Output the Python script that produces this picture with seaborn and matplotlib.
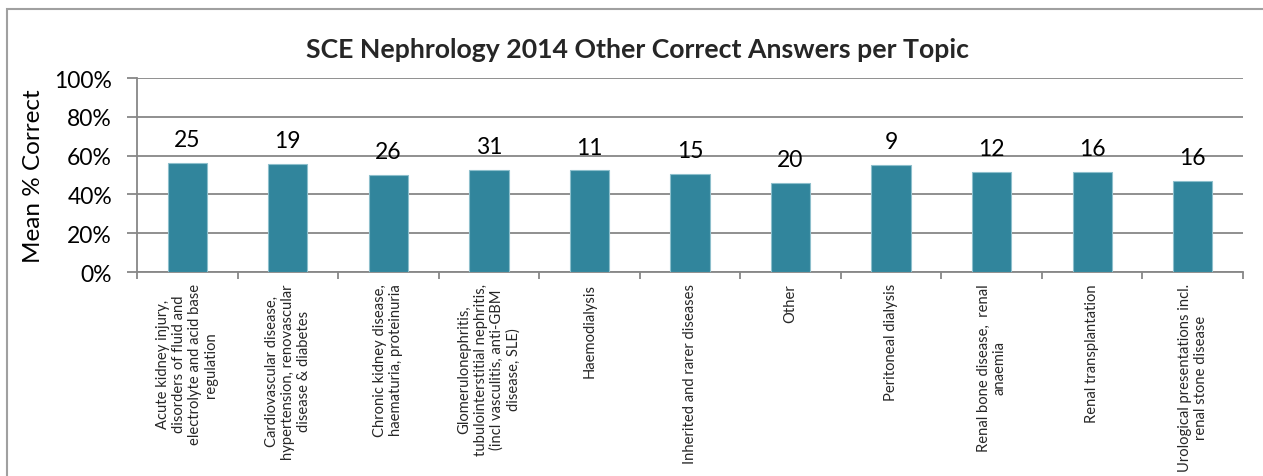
import matplotlib
matplotlib.use("Agg")
import matplotlib.pyplot as plt
from matplotlib.patches import Rectangle
from matplotlib.ticker import PercentFormatter, FixedLocator
import seaborn as sns
import pandas as pd

topics = [
    "Acute kidney injury,\ndisorders of fluid and\nelectrolyte and acid base\nregulation",
    "Cardiovascular disease,\nhypertension, renovascular\ndisease & diabetes",
    "Chronic kidney disease,\nhaematuria, proteinuria",
    "Glomerulonephritis,\ntubulointerstitial nephritis,\n(incl vasculitis, anti-GBM\ndisease, SLE)",
    "Haemodialysis",
    "Inherited and rarer diseases",
    "Other",
    "Peritoneal dialysis",
    "Renal bone disease,  renal\nanaemia",
    "Renal transplantation",
    "Urological presentations incl.\nrenal stone disease",
]
mean_pct = [56.2, 55.9, 50.2, 52.6, 52.4, 50.6, 46.1, 55.4, 51.8, 51.8, 47.0]
n_questions = [25, 19, 26, 31, 11, 15, 20, 9, 12, 16, 16]
y_ticks = [0, 20, 40, 60, 80, 100]

sns.set_theme(style="white")
plt.rcParams["font.family"] = ["Lato", "DejaVu Sans"]

W, H = 1263, 477
fig = plt.figure(figsize=(W / 100, H / 100), dpi=100)
ax = fig.add_axes([137 / W, 1 - 273 / H, (1243 - 137) / W, (273 - 79) / H])

df = pd.DataFrame({"topic": topics, "pct": mean_pct})
sns.barplot(data=df, x="topic", y="pct", color="#31859C", saturation=1,
            width=0.39, edgecolor="#8DBFCC", linewidth=0.8, ax=ax, zorder=3)

ax.set_ylim(0, 100)
ax.set_xlim(-0.5, len(topics) - 0.5)
ax.yaxis.set_major_locator(FixedLocator(y_ticks))
ax.yaxis.set_major_formatter(PercentFormatter(decimals=0))
grid_c = "#878787"
ax.grid(axis="y", color=grid_c, linewidth=1.3, zorder=0)
ax.set_axisbelow(True)
for s in ["top", "right"]:
    ax.spines[s].set_visible(False)
for s in ["left", "bottom"]:
    ax.spines[s].set_color(grid_c)
    ax.spines[s].set_linewidth(1.3)

ax.tick_params(axis="y", which="major", left=True, length=7, width=1.3,
               color=grid_c, pad=11, labelsize=16.5, labelcolor="black")
ax.set_xticks(range(len(topics)))
ax.set_xticklabels(topics, rotation=90, ha="center", va="top",
                   multialignment="center", fontsize=10.6, linespacing=1.18)
ax.set_xticks([i - 0.5 for i in range(len(topics) + 1)], minor=True)
ax.tick_params(axis="x", which="major", bottom=False, length=0, pad=8)
ax.tick_params(axis="x", which="minor", bottom=True, length=5, width=1.3,
               color=grid_c)
ax.set_xlabel("")
ax.set_ylabel("Mean % Correct", fontsize=17.5, color="black")
ax.yaxis.set_label_coords(-93 / (1243 - 137), 0.5)

ax.bar_label(ax.containers[0], labels=[str(v) for v in n_questions],
             padding=9, fontsize=16.5, color="black")

fig.text(638 / W, 1 - 50 / H, "SCE Nephrology 2014 Other Correct Answers per Topic",
         ha="center", va="center", fontsize=19.2, fontweight="bold")

fig.patches.append(Rectangle((7 / W, -0.1), 1.2, 1 - 10 / H + 0.1,
                             transform=fig.transFigure, fill=False,
                             edgecolor="#A0A0A0", linewidth=1.5))

fig.savefig("out.png", dpi=100)
